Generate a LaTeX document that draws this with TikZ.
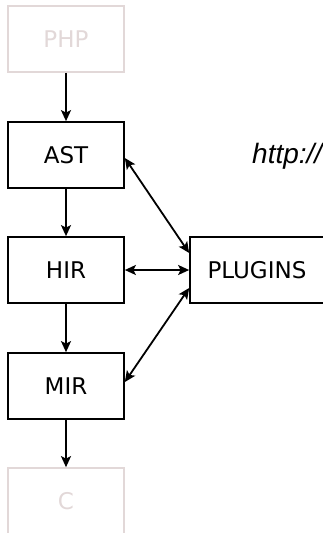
\documentclass[tikz,border=0pt]{standalone}
\usepackage{fontspec}
\setmainfont{DejaVu Sans}
\newfontfamily\urlfont{Liberation Sans}
\usetikzlibrary{arrows.meta}
\definecolor{faded}{RGB}{226,216,216}
\begin{document}
\begin{tikzpicture}[
  box/.style={draw,line width=1.7pt,minimum width=116pt,minimum height=66pt,inner sep=0pt,font=\fontsize{23}{27}\selectfont},
  fadedbox/.style={box,draw=faded,text=faded},
  arr/.style={line width=1.8pt,-{Stealth[length=11pt,width=10pt,inset=2.5pt]}},
  biarr/.style={line width=1.8pt,{Stealth[length=11pt,width=10pt,inset=2.5pt]}-{Stealth[length=11pt,width=10pt,inset=2.5pt]}}]
\useasboundingbox (0pt,0pt) rectangle (323pt,-533pt);
\clip (0pt,0pt) rectangle (323pt,-533pt);
\node[fadedbox] (php) at (66pt,-39pt) {PHP};
\node[box] (ast) at (66pt,-155pt) {AST};
\node[box] (hir) at (66pt,-270pt) {HIR};
\node[box] (mir) at (66pt,-386pt) {MIR};
\node[fadedbox] (c) at (66pt,-501pt) {C};
\node[box,minimum width=134pt] (plugins) at (257pt,-270pt) {PLUGINS};
\node[anchor=base west,inner sep=0pt,font=\urlfont\itshape\fontsize{28}{32}\selectfont] (url) at (252pt,-163pt) {http://};
\draw[arr] (php) -- (ast);
\draw[arr] (ast) -- (hir);
\draw[arr] (hir) -- (mir);
\draw[arr] (mir) -- (c);
\draw[biarr] ([yshift=-3pt]ast.east) -- ([yshift=17pt]plugins.west);
\draw[biarr] (hir) -- (plugins);
\draw[biarr] ([yshift=4pt]mir.east) -- ([yshift=-18pt]plugins.west);
\end{tikzpicture}
\end{document}
